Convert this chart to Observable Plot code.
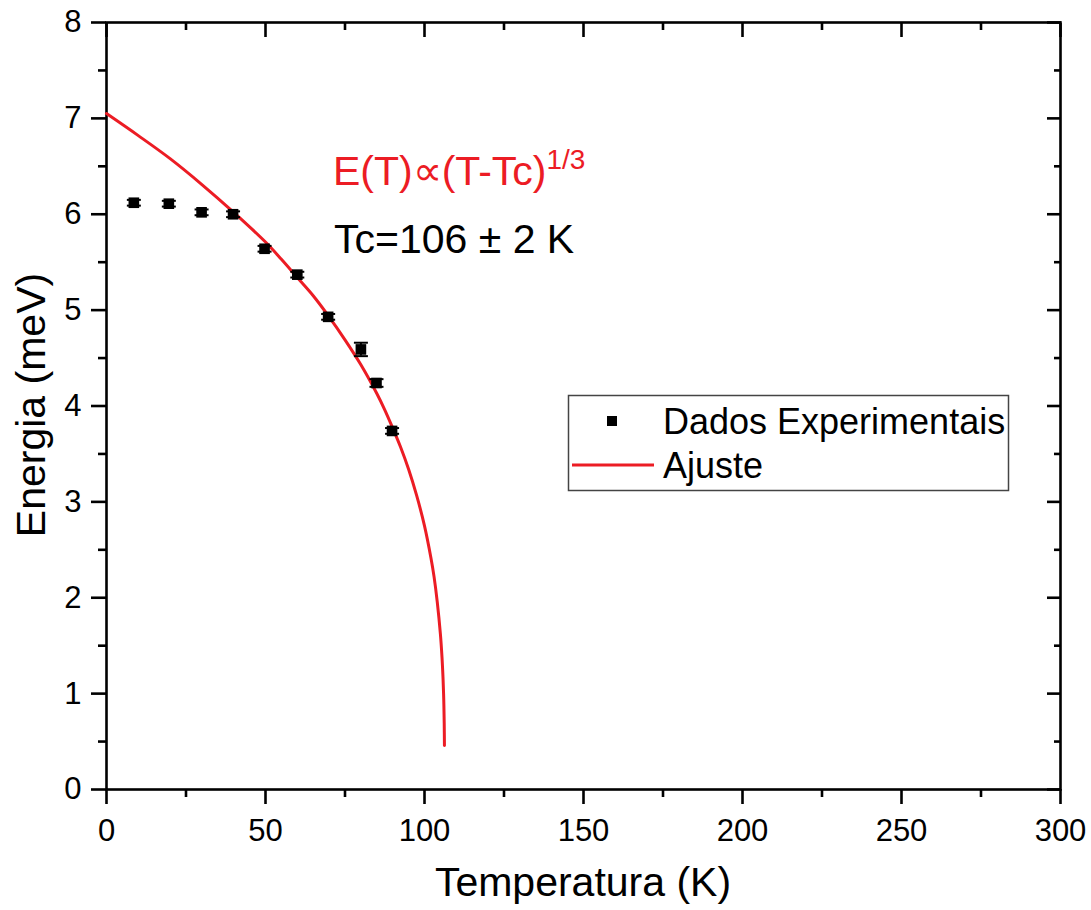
<!DOCTYPE html>
<html><head><meta charset="utf-8">
<script src="https://cdn.jsdelivr.net/npm/d3@7"></script>
<script src="https://cdn.jsdelivr.net/npm/@observablehq/plot@0.6"></script>
<style>html,body{margin:0;padding:0;background:#fff;}</style>
</head><body><div id="chart"></div>
<script>
const temperature = [8.6, 19.6, 29.9, 39.8, 49.7, 60.0, 69.7, 80.0, 84.9, 89.8];
const energy      = [6.12, 6.11, 6.02, 6.00, 5.64, 5.37, 4.93, 4.59, 4.24, 3.74];
const energyErr   = [0.03, 0.03, 0.03, 0.03, 0.03, 0.03, 0.03, 0.07, 0.04, 0.03];

// Fit curve
const fitT = [0, 10, 20, 30, 40, 50, 55, 60, 65, 70, 75, 80, 85, 87.5, 90, 92.5, 95, 97.5, 100, 102, 103, 104, 105, 105.5, 105.8, 106, 106.1, 106.2, 106.27];
const fitE = [7.05, 6.82, 6.58, 6.31, 6.02, 5.71, 5.53, 5.34, 5.15, 4.93, 4.69, 4.43, 4.13, 3.96, 3.77, 3.57, 3.34, 3.07, 2.75, 2.42, 2.22, 1.96, 1.62, 1.38, 1.18, 1.00, 0.87, 0.69, 0.46];

// Ticks
const xMajor = [0, 50, 100, 150, 200, 250, 300];
const xMinor = [25, 75, 125, 175, 225, 275];
const yMajor = [0, 1, 2, 3, 4, 5, 6, 7, 8];
const yMinor = [0.5, 1.5, 2.5, 3.5, 4.5, 5.5, 6.5, 7.5];

// Texts
const xLabel = "Temperatura (K)";
const yLabel = "Energia (meV)";
const fitFormula = "E(T)\u221D(T-Tc)";
const fitExponent = "1/3";
const tcText = "Tc=106 \u00B1 2 K";
const legendData = "Dados Experimentais";
const legendFit = "Ajuste";

const points = temperature.map((T, i) => ({T, E: energy[i], err: energyErr[i]}));
const fit = fitT.map((T, i) => ({T, E: fitE[i]}));

const font = "'Liberation Sans', Arial, Helvetica, sans-serif";
const red = "#ec1c24";
const sw = 2.6;

const capSymbol = {
  draw(context, size) {
    const r = Math.sqrt(size / Math.PI);
    context.moveTo(-r, 0);
    context.lineTo(r, 0);
  }
};

function overlay() {
  const g = d3.create("svg:g").attr("font-family", font).attr("text-anchor", "start");
  // annotation
  const t1 = g.append("text").attr("x", 333).attr("y", 185).attr("fill", red).attr("font-size", 41);
  t1.append("tspan").text(fitFormula);
  t1.append("tspan").attr("dy", -16).attr("font-size", 28).text(fitExponent);
  g.append("text").attr("x", 334).attr("y", 253).attr("fill", "#000").attr("font-size", 41).text(tcText);
  // legend
  g.append("rect").attr("x", 568.5).attr("y", 395.5).attr("width", 440).attr("height", 95)
    .attr("fill", "#fff").attr("stroke", "#444").attr("stroke-width", 1.5);
  g.append("rect").attr("x", 607).attr("y", 416).attr("width", 10).attr("height", 10).attr("fill", "#000");
  g.append("text").attr("x", 663).attr("y", 434).attr("font-size", 36).attr("fill", "#000").text(legendData);
  g.append("line").attr("x1", 572).attr("x2", 654).attr("y1", 465).attr("y2", 465).attr("stroke", red).attr("stroke-width", 3);
  g.append("text").attr("x", 663).attr("y", 478).attr("font-size", 36).attr("fill", "#000").text(legendFit);
  // axis labels
  g.append("text").attr("x", 583).attr("y", 896).attr("text-anchor", "middle").attr("font-size", 41).attr("fill", "#000").text(xLabel);
  g.append("text").attr("transform", "translate(45,405) rotate(-90)").attr("text-anchor", "middle").attr("font-size", 41).attr("fill", "#000").text(yLabel);
  return g.node();
}

const plot = Plot.plot({
  width: 1091,
  height: 910,
  marginLeft: 106,
  marginRight: 31,
  marginTop: 22,
  marginBottom: 121,
  style: {fontFamily: font, background: "#fff", color: "#000", overflow: "visible"},
  x: {domain: [0, 300]},
  y: {domain: [0, 8]},
  marks: [
    // bottom axis (outward ticks)
    Plot.axisX(xMajor, {anchor: "bottom", tickSize: 15, tickPadding: 14, fontSize: 31, strokeWidth: sw, label: null, tickFormat: d => String(d)}),
    Plot.axisX(xMinor, {anchor: "bottom", tickSize: 8, text: null, strokeWidth: sw, label: null}),
    // top axis (inward ticks)
    Plot.axisX(xMajor, {anchor: "top", tickSize: -14, text: null, strokeWidth: sw, label: null}),
    Plot.axisX(xMinor, {anchor: "top", tickSize: -7, text: null, strokeWidth: sw, label: null}),
    // left axis (outward ticks)
    Plot.axisY(yMajor, {anchor: "left", tickSize: 15, tickPadding: 10, fontSize: 31, strokeWidth: sw, label: null, tickFormat: d => String(d)}),
    Plot.axisY(yMinor, {anchor: "left", tickSize: 8, text: null, strokeWidth: sw, label: null}),
    // right axis (inward ticks)
    Plot.axisY(yMajor, {anchor: "right", tickSize: -14, text: null, strokeWidth: sw, label: null}),
    Plot.axisY(yMinor, {anchor: "right", tickSize: -7, text: null, strokeWidth: sw, label: null}),
    Plot.frame({stroke: "#000", strokeWidth: sw}),
    // fit line
    Plot.line(fit, {x: "T", y: "E", stroke: red, strokeWidth: 3, curve: "catmull-rom"}),
    // error bars
    Plot.ruleX(points, {x: "T", y1: d => d.E - d.err, y2: d => d.E + d.err, stroke: "#000", strokeWidth: 2}),
    Plot.dot(points, {x: "T", y: d => d.E - d.err, symbol: capSymbol, r: 7, stroke: "#000", strokeWidth: 2}),
    Plot.dot(points, {x: "T", y: d => d.E + d.err, symbol: capSymbol, r: 7, stroke: "#000", strokeWidth: 2}),
    // data squares
    Plot.dot(points, {x: "T", y: "E", symbol: "square", r: 6, fill: "#000", stroke: null}),
    overlay
  ]
});
document.getElementById("chart").appendChild(plot);
</script>
</body></html>
